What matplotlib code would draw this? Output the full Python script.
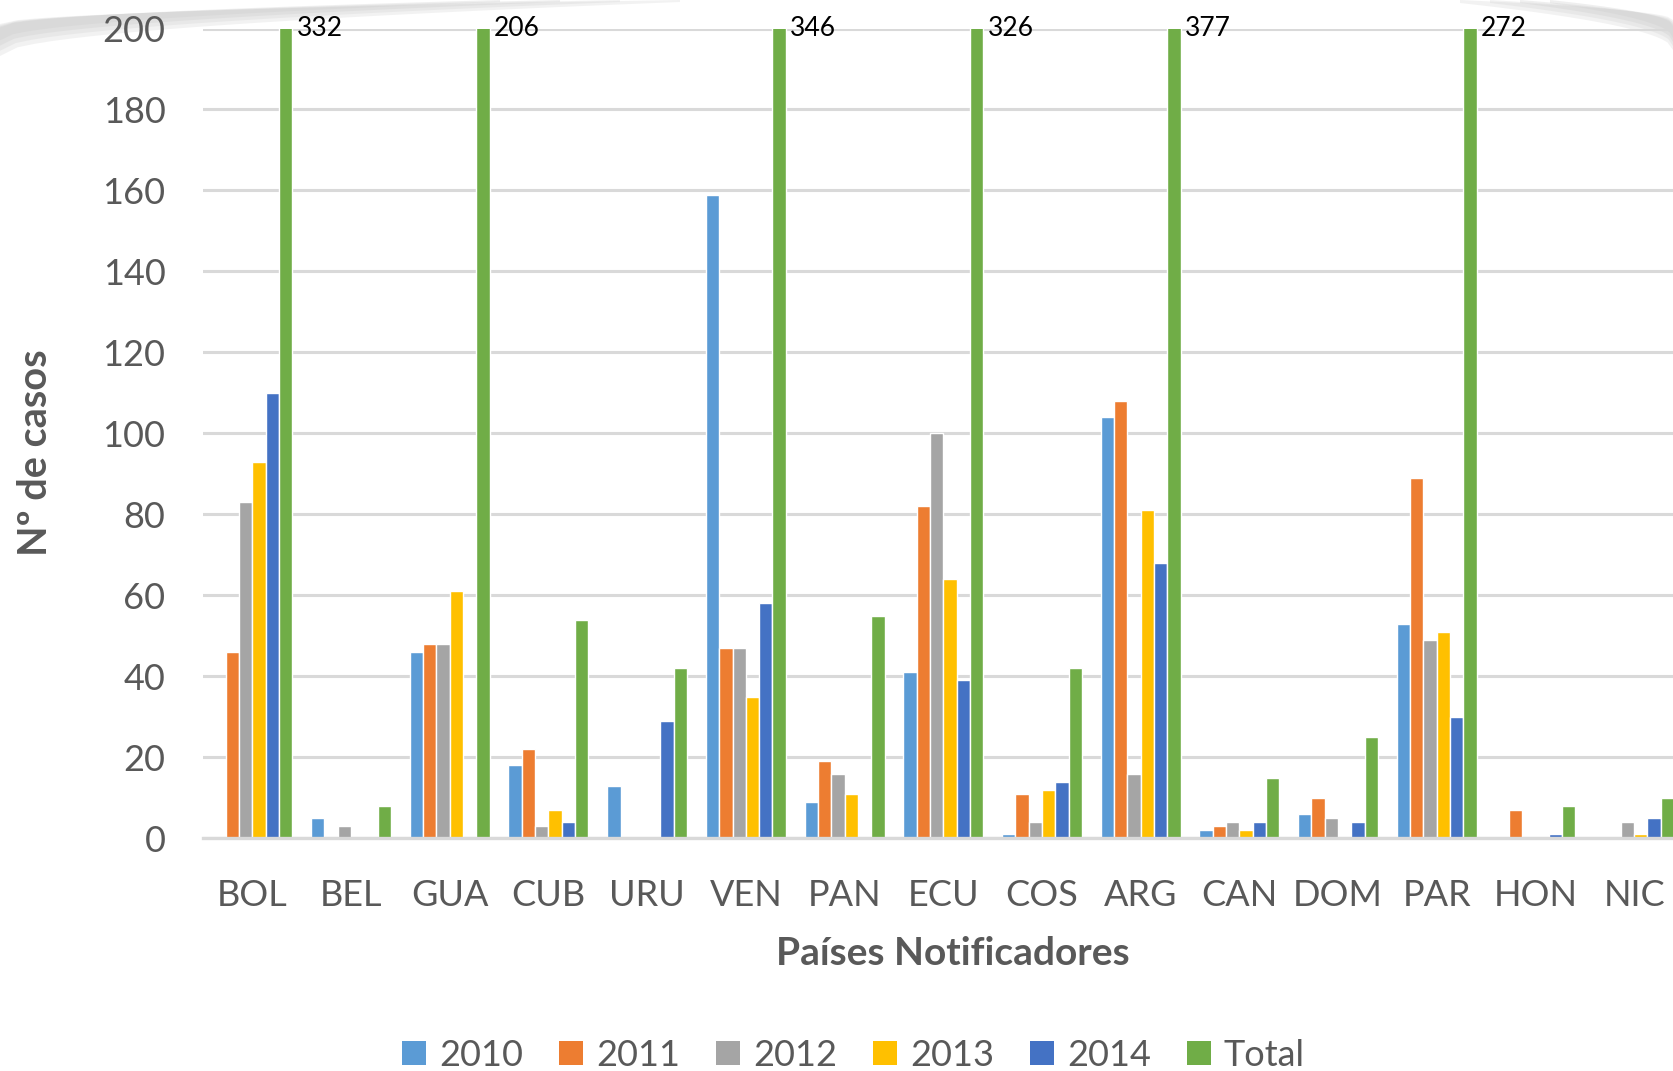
import matplotlib
matplotlib.use("Agg")
import matplotlib.pyplot as plt
from matplotlib.patches import Polygon, Patch
import numpy as np

plt.rcParams['font.family'] = ['Lato', 'DejaVu Sans']

countries = ["BOL", "BEL", "GUA", "CUB", "URU", "VEN", "PAN", "ECU", "COS",
             "ARG", "CAN", "DOM", "PAR", "HON", "NIC"]
series_names = ["2010", "2011", "2012", "2013", "2014", "Total"]
v2010 = [0, 5, 46, 18, 13, 159, 9, 41, 1, 104, 2, 6, 53, 0, 0]
v2011 = [46, 0, 48, 22, 0, 47, 19, 82, 11, 108, 3, 10, 89, 7, 0]
v2012 = [83, 3, 48, 3, 0, 47, 16, 100, 4, 16, 4, 5, 49, 0, 4]
v2013 = [93, 0, 61, 7, 0, 35, 11, 64, 12, 81, 2, 0, 51, 0, 1]
v2014 = [110, 0, 0, 4, 29, 58, 0, 39, 14, 68, 4, 4, 30, 1, 5]
total = [332, 8, 206, 54, 42, 346, 55, 326, 42, 377, 15, 25, 272, 8, 10]
colors = ["#5B9BD5", "#ED7D31", "#A5A5A5", "#FFC000", "#4472C4", "#70AD47"]
y_max = 200

W, H = 1673, 1071
fig = plt.figure(figsize=(W / 100, H / 100), dpi=100)

# decorative soft swoosh in the corners
deco = fig.add_axes([0, 0, 1, 1], zorder=0)
deco.set_xlim(0, W)
deco.set_ylim(H, 0)
deco.axis("off")


def band(x0, x1, ytop0, ytop1, ybot0, ybot1, n=40):
    xs = np.linspace(x0, x1, n)
    t = (xs - x0) / (x1 - x0)
    top = ytop0 + (ytop1 - ytop0) * np.sqrt(t)
    bot = ybot0 + (ybot1 - ybot0) * np.sqrt(t)
    return list(zip(xs, top)) + list(zip(xs[::-1], bot[::-1]))


for k, a in enumerate([0.25, 0.25, 0.3, 0.3]):
    s = 1 - 0.2 * k
    deco.add_patch(Polygon(band(0, 680 - 60 * k, 30 - 6 * s, 0, 30 + 26 * s, 2),
                           closed=True, facecolor="#cccccc", edgecolor="none", alpha=a))
    deco.add_patch(Polygon(band(W, 1460 + 30 * k, 30 - 10 * s, 0, 30 + 20 * s, 3),
                           closed=True, facecolor="#cccccc", edgecolor="none", alpha=a))

ax = fig.add_axes([203 / W, 1 - 838.3 / H, 1480.5 / W, (838.3 - 28.5) / H], zorder=1)
ax.patch.set_alpha(0)

data = [v2010, v2011, v2012, v2013, v2014, total]
x = np.arange(len(countries))
bw = 0.135
for i, (vals, c) in enumerate(zip(data, colors)):
    ax.bar(x + (i - 2.5) * bw, vals, width=bw, color=c, edgecolor="white",
           linewidth=1.0, zorder=3, label=series_names[i])

for xi, t in zip(x, total):
    if t > y_max:
        ax.annotate(str(t), xy=(xi + 2.5 * bw, y_max), xytext=(8, 0),
                    textcoords="offset points", ha="left", va="center",
                    fontsize=19, color="black", annotation_clip=False, zorder=5)

ax.set_xlim(-0.5, len(countries) - 0.5)
ax.set_ylim(0, y_max)
ax.set_yticks(np.arange(0, 201, 20))
ax.set_xticks(x)
ax.set_xticklabels(countries)
ax.tick_params(axis="both", length=0, labelsize=26, labelcolor="#595959")
ax.tick_params(axis="y", pad=27)
ax.tick_params(axis="x", pad=29.5)
ax.grid(axis="y", color="#d9d9d9", linewidth=2.2, zorder=0)
for s in ["top", "right", "left"]:
    ax.spines[s].set_visible(False)
ax.spines["bottom"].set_color("#d9d9d9")
ax.spines["bottom"].set_linewidth(2.4)
ax.spines["bottom"].set_zorder(4)

fig.text(952.7 / W, 1 - 965 / H, "Países Notificadores", ha="center", va="baseline",
         fontsize=28, fontweight="bold", color="#595959")
fig.text(46.7 / W, 1 - 453 / H, "Nº de casos", ha="center", va="baseline",
         rotation=90, rotation_mode="anchor", fontsize=28.5, fontweight="bold", color="#595959")

handles = [Patch(facecolor=c, edgecolor="none") for c in colors]
fig.legend(handles, series_names, loc="center", bbox_to_anchor=(853.5 / W, 1 - 1055 / H),
           ncol=6, frameon=False, fontsize=26, labelcolor="#595959",
           handlelength=0.67, handleheight=0.67, handletextpad=0.35,
           columnspacing=1.0, borderpad=0)

fig.savefig("out.png", dpi=100)
